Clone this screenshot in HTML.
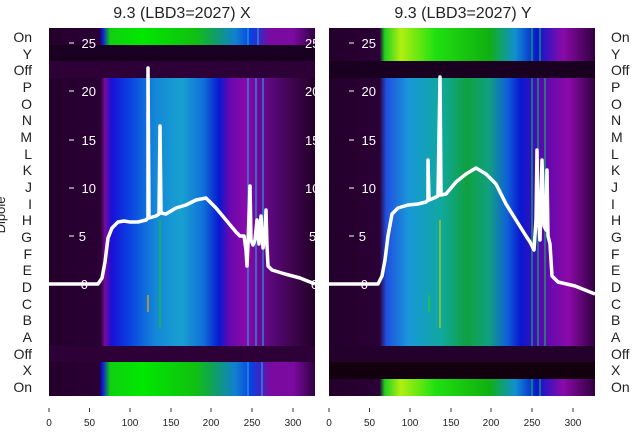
<!DOCTYPE html>
<html><head><meta charset="utf-8"><style>
body{margin:0;background:#fff;}
svg{display:block;font-family:"Liberation Sans","DejaVu Sans",sans-serif;}
</style></head><body>
<svg width="640" height="440" viewBox="0 0 640 440" xmlns="http://www.w3.org/2000/svg">
<defs>
<linearGradient id="mainL" x1="0" x2="1">
<stop offset="0" stop-color="#24002a"/><stop offset="0.195" stop-color="#2a0036"/>
<stop offset="0.21" stop-color="#7a0a9a"/><stop offset="0.235" stop-color="#1a10d8"/>
<stop offset="0.3" stop-color="#0a40e0"/><stop offset="0.4" stop-color="#1488d8"/>
<stop offset="0.5" stop-color="#18a0d0"/><stop offset="0.58" stop-color="#1070d8"/>
<stop offset="0.64" stop-color="#0818d0"/><stop offset="0.68" stop-color="#6a08b0"/>
<stop offset="0.74" stop-color="#8a0aa8"/><stop offset="0.8" stop-color="#6a0890"/>
<stop offset="0.88" stop-color="#4a0660"/><stop offset="1" stop-color="#220026"/>
</linearGradient>
<linearGradient id="mainR" x1="0" x2="1">
<stop offset="0" stop-color="#24002a"/><stop offset="0.19" stop-color="#2a0036"/>
<stop offset="0.215" stop-color="#2050e0"/><stop offset="0.3" stop-color="#1898d8"/>
<stop offset="0.42" stop-color="#10a8a0"/><stop offset="0.52" stop-color="#10a040"/>
<stop offset="0.6" stop-color="#10a080"/><stop offset="0.67" stop-color="#1060d8"/>
<stop offset="0.72" stop-color="#0818d0"/><stop offset="0.8" stop-color="#5a08b0"/>
<stop offset="0.9" stop-color="#8a0aa8"/><stop offset="1" stop-color="#300040"/>
</linearGradient>
<linearGradient id="green" x1="0" x2="1">
<stop offset="0" stop-color="#24002a"/><stop offset="0.19" stop-color="#2a0036"/>
<stop offset="0.2" stop-color="#1010e0"/><stop offset="0.23" stop-color="#10d010"/>
<stop offset="0.35" stop-color="#00e800"/><stop offset="0.55" stop-color="#10c010"/>
<stop offset="0.62" stop-color="#10a060"/><stop offset="0.7" stop-color="#1080d0"/>
<stop offset="0.76" stop-color="#0a40e0"/><stop offset="0.83" stop-color="#7a0aa0"/>
<stop offset="0.92" stop-color="#7a0aa0"/><stop offset="1" stop-color="#300040"/>
</linearGradient>
<linearGradient id="greenR" x1="0" x2="1">
<stop offset="0" stop-color="#24002a"/><stop offset="0.19" stop-color="#2a0036"/>
<stop offset="0.21" stop-color="#20d020"/><stop offset="0.27" stop-color="#b0f010"/>
<stop offset="0.4" stop-color="#20e010"/><stop offset="0.6" stop-color="#10b010"/>
<stop offset="0.7" stop-color="#1090d0"/><stop offset="0.78" stop-color="#0818d0"/>
<stop offset="0.88" stop-color="#8a0aa8"/><stop offset="1" stop-color="#300040"/>
</linearGradient>
</defs>
<text x="182" y="18" font-size="16" text-anchor="middle" fill="#222">9.3 (LBD3=2027) X</text>
<text x="463" y="18" font-size="16" text-anchor="middle" fill="#222">9.3 (LBD3=2027) Y</text>
<rect x="49" y="28" width="266" height="368" fill="url(#mainL)"/>
<rect x="49" y="28" width="266" height="17" fill="url(#green)"/>
<rect x="49" y="45" width="266" height="17" fill="#1a0020"/>
<rect x="49" y="61" width="266" height="17" fill="#2e0038"/>
<rect x="49" y="346" width="266" height="17" fill="#2e0038"/>
<rect x="49" y="362" width="266" height="34" fill="url(#green)"/>
<g stroke="#1aa0f0" stroke-width="1.2"><line x1="248" y1="28" x2="248" y2="45"/><line x1="258" y1="28" x2="258" y2="45"/><line x1="248" y1="78" x2="248" y2="346"/><line x1="256" y1="78" x2="256" y2="346"/><line x1="263" y1="78" x2="263" y2="346"/><line x1="248" y1="362" x2="248" y2="396"/><line x1="262" y1="362" x2="262" y2="396"/></g>
<line x1="160" y1="220" x2="160" y2="328" stroke="#20c020" stroke-width="1.2"/>
<line x1="148" y1="295" x2="148" y2="312" stroke="#f0b000" stroke-width="1.2"/>
<rect x="329" y="28" width="266" height="368" fill="url(#mainR)"/>
<rect x="329" y="28" width="266" height="34" fill="url(#greenR)"/>
<rect x="329" y="61" width="266" height="17" fill="#1a0020"/>
<rect x="329" y="346" width="266" height="17" fill="#24002c"/>
<rect x="329" y="362" width="266" height="17" fill="#12000e"/>
<rect x="329" y="379" width="266" height="17" fill="url(#greenR)"/>
<g stroke="#10b060" stroke-width="1.2"><line x1="532" y1="28" x2="532" y2="61"/><line x1="540" y1="28" x2="540" y2="61"/><line x1="532" y1="78" x2="532" y2="346"/><line x1="538" y1="78" x2="538" y2="346"/><line x1="545" y1="78" x2="545" y2="346"/><line x1="532" y1="379" x2="532" y2="396"/><line x1="540" y1="379" x2="540" y2="396"/></g>
<line x1="440" y1="220" x2="440" y2="328" stroke="#c0d000" stroke-width="1.2"/>
<line x1="429" y1="295" x2="429" y2="312" stroke="#20d020" stroke-width="1.2"/>
<polyline fill="none" stroke="#fff" stroke-width="3.5" stroke-linejoin="round" points="49,284 98,284 102,278 105,262 108,238 112,228 118,222 124,221 130,222 138,222 146,220 148,218 148,68 149,218 156,216 159,214 160,126 161,213 166,214 176,208 186,205 196,200 206,198 216,208 226,220 236,232 240,236 244,236 246,250 247,266 248,244 250,186 251,240 253,245 255,240 257,220 259,244 261,216 263,248 265,235 266,210 267,246 268,266 272,270 285,274 300,278 315,284"/>
<polyline fill="none" stroke="#fff" stroke-width="3.5" stroke-linejoin="round" points="329,284 378,284 382,276 385,260 388,236 392,214 398,208 408,205 418,204 426,202 428,200 428,160 429,200 434,198 438,196 440,77 441,195 446,194 456,182 466,174 476,168 486,174 496,184 506,204 516,220 526,236 530,242 534,250 536,220 537,150 538,210 540,240 542,160 544,226 546,230 547,170 548,236 550,244 552,276 558,282 575,286 585,290 595,294"/>
<g fill="#fff" font-size="13" text-anchor="end">
<text x="96" y="48">25</text><text x="96" y="96">20</text><text x="96" y="145">15</text><text x="96" y="193">10</text><text x="86" y="241">5</text><text x="88" y="289">0</text>
<text x="376" y="48">25</text><text x="376" y="96">20</text><text x="376" y="145">15</text><text x="376" y="193">10</text><text x="366" y="241">5</text><text x="368" y="289">0</text>
</g>
<g stroke="#fff" stroke-width="1"><line x1="69" y1="43" x2="74" y2="43"/><line x1="69" y1="91" x2="74" y2="91"/><line x1="69" y1="140" x2="74" y2="140"/><line x1="69" y1="188" x2="74" y2="188"/><line x1="69" y1="236" x2="74" y2="236"/><line x1="349" y1="43" x2="354" y2="43"/><line x1="349" y1="91" x2="354" y2="91"/><line x1="349" y1="140" x2="354" y2="140"/><line x1="349" y1="188" x2="354" y2="188"/><line x1="349" y1="236" x2="354" y2="236"/></g>
<g fill="#fff" font-size="13"><text x="305" y="48">25</text><text x="305" y="96">20</text><text x="305" y="145">15</text><text x="305" y="193">10</text><text x="309" y="241">5</text><text x="311" y="289">0</text></g>
<g font-size="14" fill="#222" text-anchor="end">
<text x="32" y="42">On</text><text x="32" y="59">Y</text><text x="32" y="75">Off</text><text x="32" y="92">P</text><text x="32" y="109">O</text><text x="32" y="125">N</text><text x="32" y="142">M</text><text x="32" y="159">L</text><text x="32" y="175">K</text><text x="32" y="192">J</text><text x="32" y="209">I</text><text x="32" y="225">H</text><text x="32" y="242">G</text><text x="32" y="259">F</text><text x="32" y="275">E</text><text x="32" y="292">D</text><text x="32" y="309">C</text><text x="32" y="325">B</text><text x="32" y="342">A</text><text x="32" y="359">Off</text><text x="32" y="375">X</text><text x="32" y="392">On</text>
</g>
<g font-size="14" fill="#222">
<text x="611" y="42">On</text><text x="611" y="59">Y</text><text x="611" y="75">Off</text><text x="611" y="92">P</text><text x="611" y="109">O</text><text x="611" y="125">N</text><text x="611" y="142">M</text><text x="611" y="159">L</text><text x="611" y="175">K</text><text x="611" y="192">J</text><text x="611" y="209">I</text><text x="611" y="225">H</text><text x="611" y="242">G</text><text x="611" y="259">F</text><text x="611" y="275">E</text><text x="611" y="292">D</text><text x="611" y="309">C</text><text x="611" y="325">B</text><text x="611" y="342">A</text><text x="611" y="359">Off</text><text x="611" y="375">X</text><text x="611" y="392">On</text>
</g>
<text x="5" y="215" font-size="13" fill="#222" transform="rotate(-90 5 215)" text-anchor="middle">Dipole</text>
<g stroke="#333" stroke-width="1">
<line x1="49" y1="408" x2="49" y2="412"/><line x1="89.5" y1="408" x2="89.5" y2="412"/><line x1="130" y1="408" x2="130" y2="412"/><line x1="171" y1="408" x2="171" y2="412"/><line x1="211" y1="408" x2="211" y2="412"/><line x1="252" y1="408" x2="252" y2="412"/><line x1="293" y1="408" x2="293" y2="412"/>
<line x1="329" y1="408" x2="329" y2="412"/><line x1="369.5" y1="408" x2="369.5" y2="412"/><line x1="410" y1="408" x2="410" y2="412"/><line x1="451" y1="408" x2="451" y2="412"/><line x1="491" y1="408" x2="491" y2="412"/><line x1="532" y1="408" x2="532" y2="412"/><line x1="573" y1="408" x2="573" y2="412"/>
</g>
<g font-size="10" fill="#222" text-anchor="middle">
<text x="49" y="426">0</text><text x="89.5" y="426">50</text><text x="130" y="426">100</text><text x="171" y="426">150</text><text x="211" y="426">200</text><text x="252" y="426">250</text><text x="293" y="426">300</text>
<text x="329" y="426">0</text><text x="369.5" y="426">50</text><text x="410" y="426">100</text><text x="451" y="426">150</text><text x="491" y="426">200</text><text x="532" y="426">250</text><text x="573" y="426">300</text>
</g>
</svg>
</body></html>
